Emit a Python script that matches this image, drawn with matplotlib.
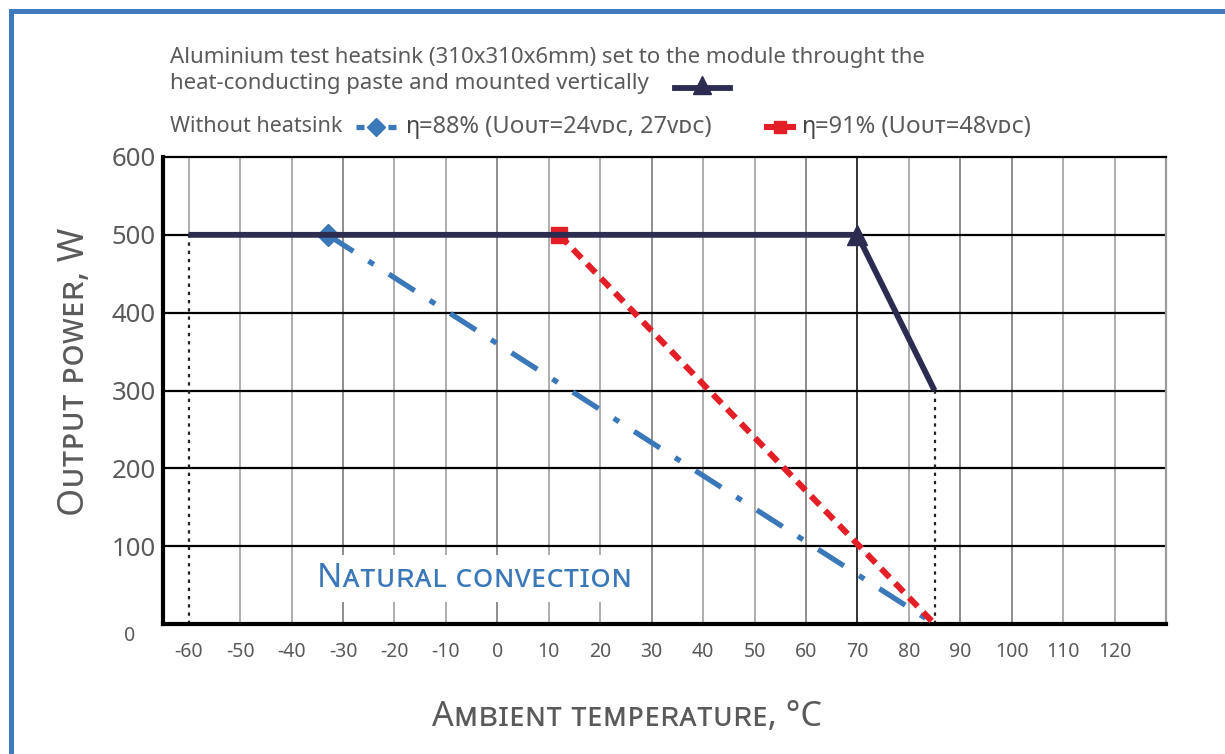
import matplotlib
matplotlib.use("Agg")
import matplotlib.pyplot as plt
from matplotlib.lines import Line2D

plt.rcParams['font.family'] = ['Noto Sans', 'DejaVu Sans']

# ---- data ----
heatsink_t = [-60, 70, 85]
heatsink_p = [500, 500, 300]
eta88_t = [-33, 85]
eta88_p = [500, 0]
eta91_t = [12, 85]
eta91_p = [500, 0]
x_ticks = list(range(-60, 121, 10))
y_ticks = [100, 200, 300, 400, 500, 600]

W, H = 1225, 754
NAVY = '#2c2b50'
BLUE = '#3b78b9'
RED = '#e31e26'
GRAY = '#5a5a5a'

fig = plt.figure(figsize=(W / 100, H / 100), dpi=100)

def fx(x):
    return x / W

def fy(y):
    return 1 - y / H

ax = fig.add_axes([fx(163), fy(624), fx(1166) - fx(163), fy(157) - fy(624)])
ax.set_xlim(-65, 130)
ax.set_ylim(0, 600)

# grid
for t in x_ticks:
    lo = 500 if t == -60 else 0
    if t == 70:
        col = '#111111'
    elif t in (-30, 0, 30, 60, 90, 100):
        col = '#7a7a7a'
    else:
        col = '#a0a0a0'
    ax.vlines(t, lo, 600, colors=col, lw=1.2, zorder=1)
for v in y_ticks[:-1]:
    ax.hlines(v, -65, 130, colors='black', lw=1.6, zorder=1)

# dotted limits
ax.vlines(heatsink_t[0], 0, heatsink_p[0], colors='#222222', lw=1.6,
          linestyles=(0, (1.5, 2.2)), zorder=2)
ax.vlines(heatsink_t[-1], 0, heatsink_p[-1], colors='#222222', lw=1.6,
          linestyles=(0, (1.5, 2.2)), zorder=2)

# series
ax.plot(heatsink_t, heatsink_p, color=NAVY, lw=4.2, marker='^', markevery=[1],
        ms=15, zorder=5, solid_capstyle='butt')
ax.plot(eta88_t, eta88_p, color=BLUE, lw=3.8, dashes=(5.8, 3.4, 1.2, 3.4),
        dash_capstyle='butt', marker='D', markevery=[0], ms=11, zorder=4)
ax.plot(eta91_t, eta91_p, color=RED, lw=4.4, dashes=(2.0, 1.3),
        dash_capstyle='butt', marker='s', markevery=[0], ms=11, zorder=4)

# Natural convection label
ax.text(-4.5, 58, 'Nᴀᴛᴜʀᴀʟ ᴄᴏɴᴠᴇᴄᴛɪᴏɴ', color=BLUE, fontsize=24,
        ha='center', va='center', zorder=3,
        bbox=dict(facecolor='white', edgecolor='none', pad=5))

# spines
for s in ['left', 'bottom']:
    ax.spines[s].set_linewidth(3)
    ax.spines[s].set_color('black')
ax.spines['top'].set_linewidth(1.6)
ax.spines['top'].set_color('black')
ax.spines['right'].set_linewidth(1.6)
ax.spines['right'].set_color('#9a9a9a')

ax.set_xticks(x_ticks)
ax.set_xticklabels([str(t) for t in x_ticks], fontsize=14, color=GRAY)
ax.set_yticks(y_ticks)
ax.set_yticklabels([str(v) for v in y_ticks], fontsize=18.5, color=GRAY)
ax.tick_params(axis='x', length=0, pad=13)
ax.tick_params(axis='y', length=0, pad=5)
ax.text(-0.033, -0.025, '0', transform=ax.transAxes, fontsize=14, color=GRAY,
        ha='center', va='center')

ax.set_xlabel('Aᴍʙɪᴇɴᴛ ᴛᴇᴍᴘᴇʀᴀᴛᴜʀᴇ, °C', fontsize=24.5, color=GRAY)
ax.xaxis.set_label_coords((627 - 163) / 1003, (624 - 717) / 467)
ax.xaxis.label.set_va('center')
ax.set_ylabel('Oᴜᴛᴘᴜᴛ ᴘᴏᴡᴇʀ, W', fontsize=26, color=GRAY)
ax.yaxis.set_label_coords((75 - 163) / 1003, (624 - 372) / 467)
ax.yaxis.label.set_va('center')

# legend texts
fs = 16
fs2 = 17
fig.text(fx(170), fy(57), 'Aluminium test heatsink (310x310x6mm) set to the module throught the',
         fontsize=fs, color=GRAY, ha='left', va='center')
fig.text(fx(170), fy(84), 'heat-conducting paste and mounted vertically',
         fontsize=fs, color=GRAY, ha='left', va='center')
fig.text(fx(170), fy(127), 'Without heatsink', fontsize=15.5, color=GRAY,
         ha='left', va='center')
fig.text(fx(406), fy(127), 'η', fontsize=fs2, color='#444444', fontweight='bold',
         ha='left', va='center')
fig.text(fx(419), fy(127), '=88% (Uᴏᴜᴛ=24ᴠᴅᴄ, 27ᴠᴅᴄ)', fontsize=fs2, color=GRAY,
         ha='left', va='center')
fig.text(fx(802), fy(127), 'η', fontsize=fs2, color='#444444', fontweight='bold',
         ha='left', va='center')
fig.text(fx(815), fy(127), '=91% (Uᴏᴜᴛ=48ᴠᴅᴄ)', fontsize=fs2, color=GRAY,
         ha='left', va='center')

# legend markers
fig.add_artist(Line2D([fx(675), fx(730)], [fy(88), fy(88)], color=NAVY, lw=4.2,
                      transform=fig.transFigure))
fig.add_artist(Line2D([fx(702)], [fy(85)], color=NAVY, marker='^', ms=13,
                      transform=fig.transFigure))
fig.add_artist(Line2D([fx(356), fx(364)], [fy(127), fy(127)], color=BLUE, lw=3.8,
                      transform=fig.transFigure, solid_capstyle='butt'))
fig.add_artist(Line2D([fx(388), fx(396)], [fy(127), fy(127)], color=BLUE, lw=3.8,
                      transform=fig.transFigure, solid_capstyle='butt'))
fig.add_artist(Line2D([fx(376)], [fy(127)], color=BLUE, marker='D', ms=9,
                      transform=fig.transFigure))
fig.add_artist(Line2D([fx(764), fx(796)], [fy(127), fy(127)], color=RED, lw=4.4,
                      transform=fig.transFigure, solid_capstyle='butt'))
fig.add_artist(Line2D([fx(780)], [fy(127)], color=RED, marker='s', ms=9,
                      transform=fig.transFigure))

# blue frame
fig.add_artist(Line2D([fx(10.5), fx(10.5), fx(W + 5)], [fy(H + 5), fy(10.5), fy(10.5)],
                      color='#3f7bbd', lw=3.6, transform=fig.transFigure,
                      solid_joinstyle='miter'))

fig.savefig('out.png', dpi=100, facecolor='white')
